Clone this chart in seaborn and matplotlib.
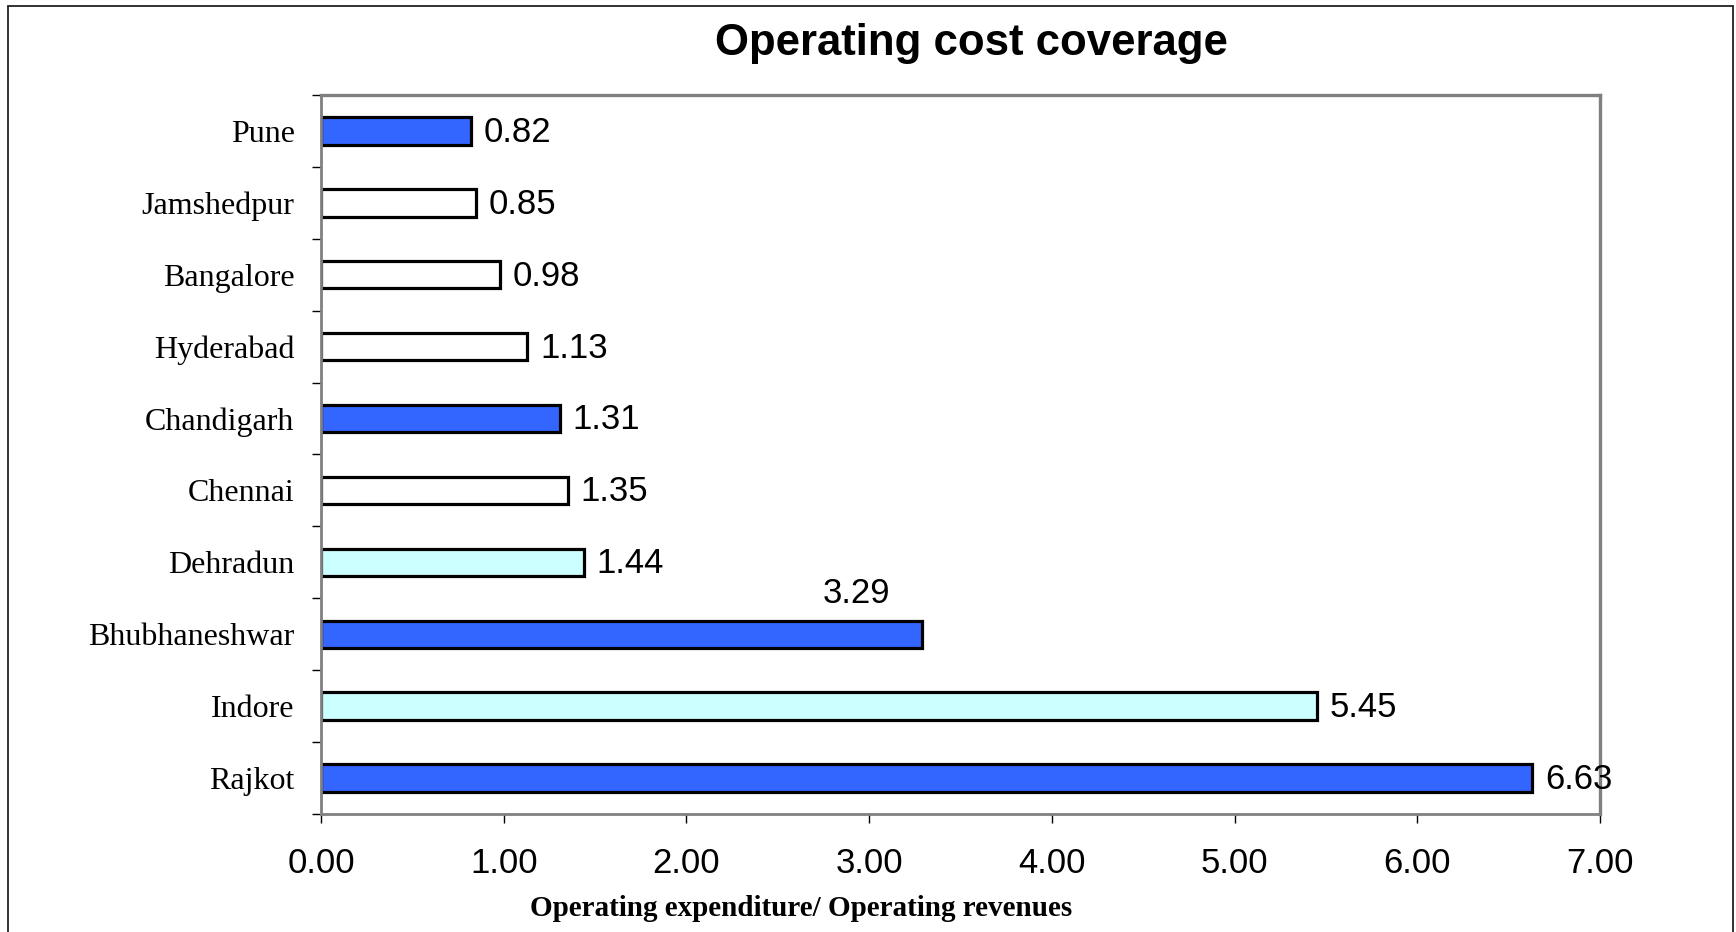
import matplotlib
matplotlib.use("Agg")
import matplotlib.pyplot as plt
from matplotlib.patches import Rectangle
from matplotlib.ticker import FixedLocator, MultipleLocator, FormatStrFormatter
import seaborn as sns
import pandas as pd

# Operating expenditure / operating revenue per city
cities = ["Pune", "Jamshedpur", "Bangalore", "Hyderabad", "Chandigarh",
          "Chennai", "Dehradun", "Bhubhaneshwar", "Indore", "Rajkot"]
ratios = [0.82, 0.85, 0.98, 1.13, 1.31, 1.35, 1.44, 3.29, 5.45, 6.63]
fills = ["#3366FF", "#FFFFFF", "#FFFFFF", "#FFFFFF", "#3366FF",
         "#FFFFFF", "#CCFFFF", "#3366FF", "#CCFFFF", "#3366FF"]

title = "Operating cost coverage"
xlabel = "Operating expenditure/ Operating revenues"
xticks = [0, 1, 2, 3, 4, 5, 6, 7]

df = pd.DataFrame({"city": cities, "ratio": ratios})

sns.set_theme(style="white")
plt.rcParams["font.family"] = ["Liberation Sans", "DejaVu Sans"]

W, H = 1736, 932
fig = plt.figure(figsize=(W / 100, H / 100), dpi=100)
ax = fig.add_axes([321 / W, 1 - 814 / H, (1600 - 321) / W, (814 - 95) / H])

sns.barplot(data=df, x="ratio", y="city", hue="city", order=cities,
            hue_order=cities, palette=dict(zip(cities, fills)),
            orient="h", width=0.38, saturation=1, legend=False,
            edgecolor="black", linewidth=2.3, ax=ax)

ax.set_xlim(0, 7)
ax.set_ylim(len(cities) - 0.5, -0.5)
ax.xaxis.set_major_locator(FixedLocator(xticks))
ax.xaxis.set_major_formatter(FormatStrFormatter("%.2f"))
ax.set_xlabel("")
ax.set_ylabel("")

# spines
for side in ["left", "bottom", "top", "right"]:
    ax.spines[side].set_visible(True)
    ax.spines[side].set_color("#808080")
    ax.spines[side].set_linewidth(2)
ax.spines["top"].set_linewidth(2.4)
ax.spines["right"].set_linewidth(2.4)

# ticks: x ticks below, y ticks at category boundaries
ax.tick_params(axis="x", which="major", direction="out", length=6.5,
               width=1, color="black", pad=17, labelsize=25,
               bottom=True)
ax.yaxis.set_minor_locator(MultipleLocator(1, offset=0.5))
ax.tick_params(axis="y", which="minor", direction="out", length=6.5,
               width=1, color="black", left=True)
ax.tick_params(axis="y", which="major", length=0, pad=19)
for lab in ax.get_yticklabels():
    lab.set_fontfamily(["Liberation Serif", "DejaVu Serif"])
    lab.set_fontsize(23)
    lab.set_color("black")
for lab in ax.get_xticklabels():
    lab.set_color("black")

# value labels
for i, v in enumerate(ratios):
    txt = f"{v:.2f}"
    if v == 3.29:
        ax.annotate(txt, xy=(v, i), xytext=(-47.5, 29.5),
                    textcoords="offset points", ha="center", va="center",
                    fontsize=25, color="black")
    else:
        ax.annotate(txt, xy=(v, i), xytext=(9, -1),
                    textcoords="offset points", ha="left", va="center",
                    fontsize=25, color="black")

fig.text(971 / W, 1 - 43 / H, title, ha="center", va="center",
         fontsize=31.5, fontweight="bold", color="black")
fig.text(801 / W, 1 - 908 / H, xlabel, ha="center", va="center",
         fontsize=21, fontweight="bold", color="black",
         family=["Liberation Serif", "DejaVu Serif"])

# outer frame
fig.patches.append(Rectangle((7.7 / W, -0.02), (1733 - 7.7) / W, 1.02 - 5.5 / H,
                             transform=fig.transFigure, fill=False,
                             edgecolor="#222222", linewidth=1.3))

fig.savefig("out.png", dpi=100, facecolor="white")
